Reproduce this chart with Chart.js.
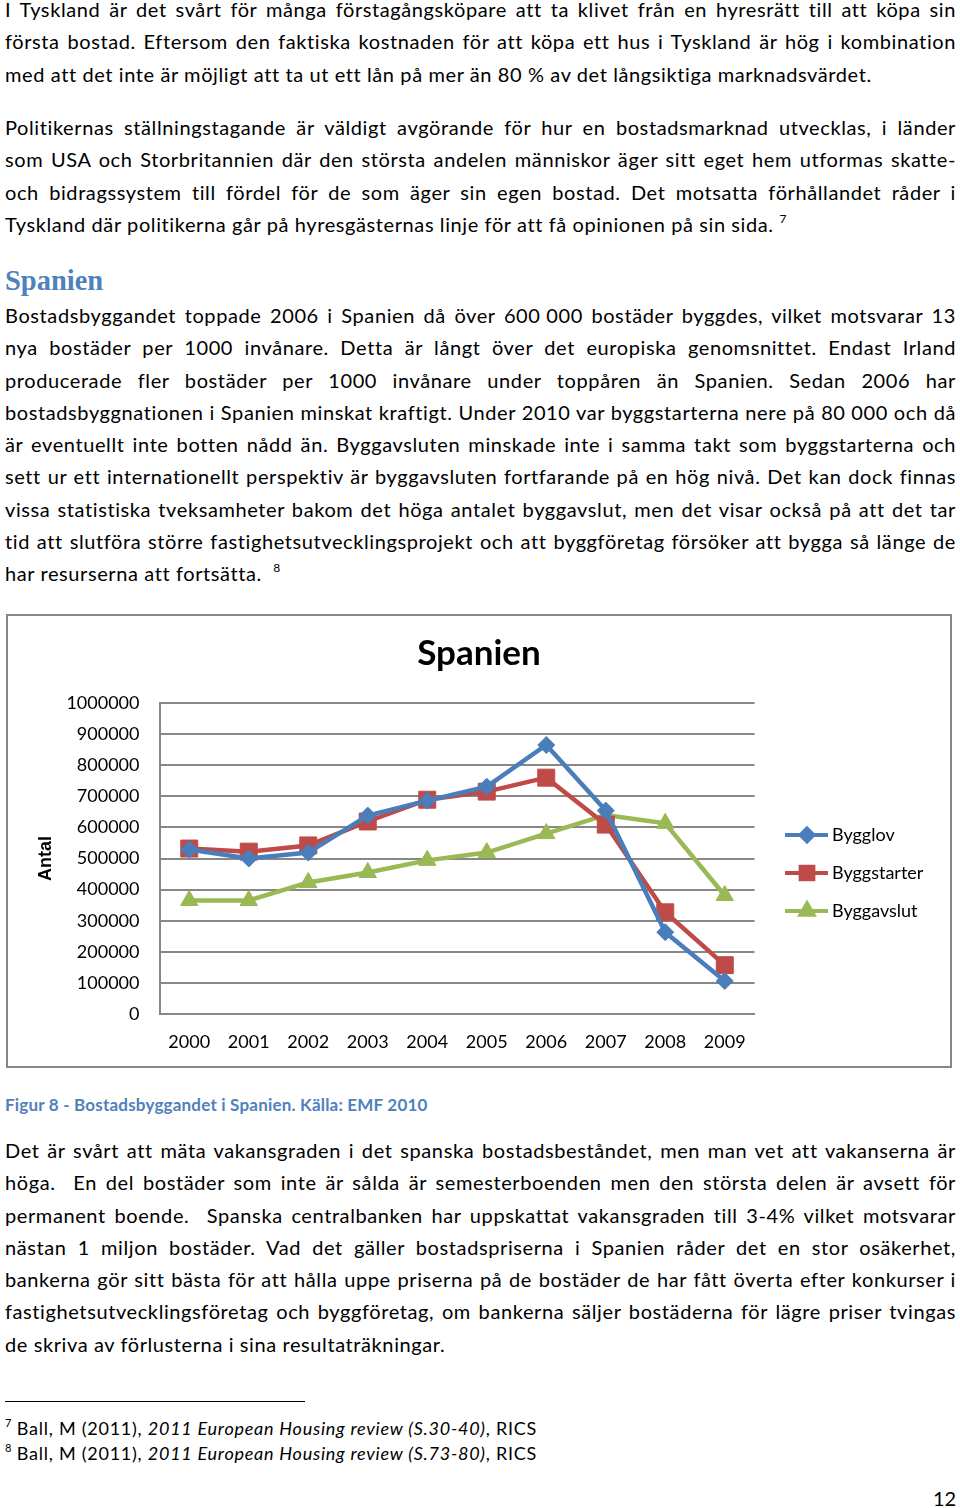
<!DOCTYPE html>
<html>
<head>
<meta charset="utf-8">
<script src="https://cdn.jsdelivr.net/npm/chart.js@4.4.1/dist/chart.umd.min.js"></script>
<style>
  html, body { margin: 0; padding: 0; background: #fff; }
  body { width: 960px; height: 1508px; position: relative; overflow: hidden; font-family: Lato, "Noto Sans", sans-serif; color: #000; }
  .para { position: absolute; left: 5px; width: 951px; font-size: 20px; letter-spacing: 0.6px; line-height: 32.3px; }
  .para div { text-align: justify; text-align-last: justify; white-space: nowrap; }
  .para div.last { text-align-last: left; }
  .nb { display: inline-block; }
  sup { font-size: 12px; vertical-align: 9px; line-height: 0; letter-spacing: 0; }
  h2 { position: absolute; left: 5px; top: 263px; margin: 0; font-family: "Liberation Serif", serif; font-weight: bold; font-size: 28.5px; color: #4f81bd; line-height: 36px; }
  #frame { position: absolute; left: 6px; top: 614px; width: 942px; height: 450px; border: 2px solid #878787; }
  #caption { position: absolute; left: 5px; top: 1094px; font-weight: bold; font-size: 17px; letter-spacing: 0.2px; color: #4f81bd; line-height: 22px; }
  #rule { position: absolute; left: 5px; top: 1401px; width: 300px; height: 0; border-top: 1.5px solid #000; }
  .fn { position: absolute; left: 5px; font-size: 18px; letter-spacing: 0.75px; line-height: 24px; }
  .fn sup { font-size: 11px; vertical-align: 8px; }
  #page { position: absolute; left: 933px; top: 1486px; font-size: 20px; line-height: 24px; }
</style>
</head>
<body>

<div class="para" style="top:-7px">
  <div>I Tyskland är det svårt för många förstagångsköpare att ta klivet från en hyresrätt till att köpa sin</div>
  <div>första bostad. Eftersom den faktiska kostnaden för att köpa ett hus i Tyskland är hög i kombination</div>
  <div class="last">med att det inte är möjligt att ta ut ett lån på mer än 80 % av det långsiktiga marknadsvärdet.</div>
</div>

<div class="para" style="top:111px">
  <div>Politikernas ställningstagande är väldigt avgörande för hur en bostadsmarknad utvecklas, i länder</div>
  <div>som USA och Storbritannien där den största andelen människor äger sitt eget hem utformas skatte-</div>
  <div>och bidragssystem till fördel för de som äger sin egen bostad. Det motsatta förhållandet råder i</div>
  <div class="last">Tyskland där politikerna går på hyresgästernas linje för att få opinionen på sin sida. <sup>7</sup></div>
</div>

<h2>Spanien</h2>

<div class="para" style="top:299px">
  <div>Bostadsbyggandet toppade 2006 i Spanien då över <span class="nb">600 000</span> bostäder byggdes, vilket motsvarar 13</div>
  <div>nya bostäder per 1000 invånare. Detta är långt över det europiska genomsnittet. Endast Irland</div>
  <div>producerade fler bostäder per 1000 invånare under toppåren än Spanien. Sedan 2006 har</div>
  <div>bostadsbyggnationen i Spanien minskat kraftigt. Under 2010 var byggstarterna nere på <span class="nb">80 000</span> och då</div>
  <div>är eventuellt inte botten nådd än. Byggavsluten minskade inte i samma takt som byggstarterna och</div>
  <div>sett ur ett internationellt perspektiv är byggavsluten fortfarande på en hög nivå. Det kan dock finnas</div>
  <div>vissa statistiska tveksamheter bakom det höga antalet byggavslut, men det visar också på att det tar</div>
  <div>tid att slutföra större fastighetsutvecklingsprojekt och att byggföretag försöker att bygga så länge de</div>
  <div class="last">har resurserna att fortsätta. &nbsp;<sup>8</sup></div>
</div>

<div id="frame"><canvas id="chart" width="942" height="450"></canvas></div>

<div id="caption">Figur 8 - Bostadsbyggandet i Spanien. Källa: EMF 2010</div>

<div class="para" style="top:1134px">
  <div>Det är svårt att mäta vakansgraden i det spanska bostadsbeståndet, men man vet att vakanserna är</div>
  <div>höga. &nbsp;En del bostäder som inte är sålda är semesterboenden men den största delen är avsett för</div>
  <div>permanent boende. &nbsp;Spanska centralbanken har uppskattat vakansgraden till 3-4% vilket motsvarar</div>
  <div>nästan 1 miljon bostäder. Vad det gäller bostadspriserna i Spanien råder det en stor osäkerhet,</div>
  <div>bankerna gör sitt bästa för att hålla uppe priserna på de bostäder de har fått överta efter konkurser i</div>
  <div>fastighetsutvecklingsföretag och byggföretag, om bankerna säljer bostäderna för lägre priser tvingas</div>
  <div class="last">de skriva av förlusterna i sina resultaträkningar.</div>
</div>

<div id="rule"></div>
<div class="fn" style="top:1416px"><sup>7</sup> Ball, M (2011), <i>2011 European Housing review (S.30-40)</i>, RICS</div>
<div class="fn" style="top:1441px"><sup>8</sup> Ball, M (2011), <i>2011 European Housing review (S.73-80)</i>, RICS</div>
<div id="page">12</div>

<script>
const years = ['2000', '2001', '2002', '2003', '2004', '2005', '2006', '2007', '2008', '2009'];
const bygglov = [529000, 500000, 519000, 638000, 686000, 731000, 865000, 654000, 263000, 106000];
const byggstarter = [532000, 522000, 542000, 619000, 689000, 715000, 760000, 609000, 327000, 157000];
const byggavslut = [365000, 365000, 423000, 455000, 494000, 519000, 580000, 640000, 613000, 381000];
const seriesNames = ['Bygglov', 'Byggstarter', 'Byggavslut'];

const gridGray = '#878787';

// legend drawn by hand: line with marker in the middle, like Excel
const sideLegend = {
    id: 'sideLegend',
    afterDraw(chart) {
        const ctx = chart.ctx;
        chart.data.datasets.forEach(function(ds, i) {
            const y = 219 + i * 38;
            ctx.save();
            ctx.strokeStyle = ds.borderColor;
            ctx.lineWidth = 4;
            ctx.beginPath();
            ctx.moveTo(777, y);
            ctx.lineTo(820, y);
            ctx.stroke();
            ctx.fillStyle = ds.pointBackgroundColor;
            ctx.strokeStyle = ds.pointBorderColor;
            Chart.helpers.drawPoint(ctx, {
                pointStyle: ds.pointStyle,
                radius: ds.pointRadius * 0.75,
                rotation: 0,
                borderWidth: 1
            }, 799, y);
            ctx.fillStyle = '#000';
            ctx.font = '18px Lato';
            ctx.textBaseline = 'middle';
            ctx.fillText(ds.label, 824, y);
            ctx.restore();
        });
    }
};

function line(label, data, color, style, radius) {
    return {
        label: label,
        data: data,
        borderColor: color,
        backgroundColor: color,
        pointBackgroundColor: color,
        pointBorderColor: color,
        pointStyle: style,
        pointRadius: radius,
        pointBorderWidth: 1,
        borderWidth: 4.5,
        tension: 0
    };
}

const ctx = document.getElementById('chart').getContext('2d');
new Chart(ctx, {
    type: 'line',
    data: {
        labels: years,
        datasets: [
            line(seriesNames[0], bygglov, '#4a7ebb', 'rectRot', 8.5),
            line(seriesNames[1], byggstarter, '#be4b48', 'rect', 12),
            line(seriesNames[2], byggavslut, '#98b954', 'triangle', 10)
        ]
    },
    options: {
        responsive: false,
        animation: false,
        layout: { padding: 0 },
        plugins: {
            legend: { display: false },
            tooltip: { enabled: false },
            title: {
                display: true,
                text: 'Spanien',
                color: '#000',
                font: { family: 'Lato', size: 35, weight: 'bold' },
                padding: { top: 17, bottom: 28 }
            }
        },
        scales: {
            x: {
                offset: true,
                grid: { display: false },
                border: { display: true, color: gridGray, width: 2 },
                ticks: { color: '#000', font: { family: 'Lato', size: 18 }, padding: 9, maxRotation: 0 },
                afterFit: function(scale) { scale.height = 52; }
            },
            y: {
                min: 0,
                max: 1000000,
                grid: { color: gridGray, lineWidth: 2, drawTicks: false },
                border: { display: true, color: gridGray, width: 2 },
                ticks: {
                    stepSize: 100000,
                    color: '#000',
                    font: { family: 'Lato', size: 18 },
                    padding: 20,
                    callback: function(v) { return String(v); }
                },
                title: {
                    display: true,
                    text: 'Antal',
                    color: '#000',
                    font: { family: 'Liberation Sans', size: 18, weight: 'bold' },
                    padding: { top: 27, bottom: 0 }
                },
                afterFit: function(scale) { scale.width = 151.5; }
            },
            // empty right-hand axis that just keeps room for the legend
            side: {
                position: 'right',
                grid: { display: false },
                border: { display: false },
                ticks: { display: false },
                afterFit: function(scale) { scale.width = 195.5; }
            }
        }
    },
    plugins: [sideLegend]
});
</script>
</body>
</html>
